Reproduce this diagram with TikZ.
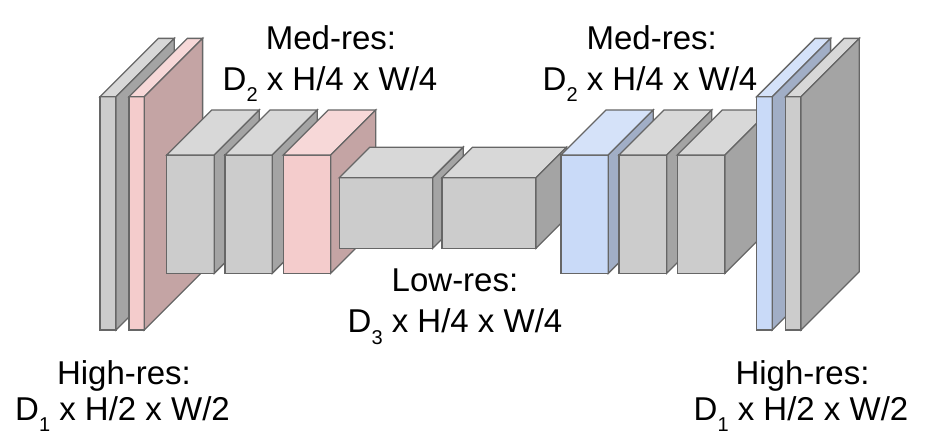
\documentclass[tikz,border=0pt]{standalone}
\usepackage{fontspec}
\setmainfont{Liberation Sans}
\definecolor{edgec}{HTML}{666666}
\definecolor{grayF}{HTML}{CCCCCC}
\definecolor{grayT}{HTML}{D8D8D8}
\definecolor{grayS}{HTML}{A4A4A4}
\definecolor{pinkF}{HTML}{F4CCCC}
\definecolor{pinkT}{HTML}{F7D8D8}
\definecolor{pinkS}{HTML}{C4A4A4}
\definecolor{blueF}{HTML}{C9DAF8}
\definecolor{blueT}{HTML}{D5E2F9}
\definecolor{blueS}{HTML}{A1AEC6}
\newcommand{\sbs}[1]{\raisebox{-0.36em}{\fontsize{20}{20}\selectfont #1}}
% x y w h d colourname
\newcommand{\drawcube}[6]{%
  \filldraw[cubeline, fill=#6F] (#1,#2) rectangle ++(#3,#4);
  \filldraw[cubeline, fill=#6T] (#1,#2) -- ++(#5,-#5) -- ++(#3,0) -- ++(-#5,#5) -- cycle;
  \filldraw[cubeline, fill=#6S] (#1+#3,#2) -- ++(#5,-#5) -- ++(0,#4) -- ++(-#5,#5) -- cycle;
}
\begin{document}
\begin{tikzpicture}[x=1pt,y=-1pt,
  cubeline/.style={draw=edgec, line width=1.3pt},
  lab/.style={anchor=base, inner sep=0pt, font=\fontsize{33}{40}\selectfont}]
\useasboundingbox (0,0) rectangle (936,444);
% left high-res slabs
\drawcube{100}{96.7}{16}{233.3}{58.3}{gray}
\drawcube{129}{96.7}{15.3}{233.3}{58.3}{pink}
% left med-res blocks
\drawcube{166.7}{155}{47.6}{118.3}{45}{gray}
\drawcube{225}{155}{47.3}{118.3}{45}{gray}
\drawcube{283.3}{155}{47.4}{118.3}{45}{pink}
% low-res blocks
\drawcube{339.3}{177.7}{93.4}{70.6}{30.5}{gray}
\drawcube{442}{177.7}{94}{70.6}{30.5}{gray}
% right med-res blocks
\drawcube{561}{155}{47.3}{118.3}{45}{blue}
\drawcube{619}{155}{47.7}{118.3}{45}{gray}
\drawcube{677.3}{155}{47.7}{118.3}{45}{gray}
% right high-res slabs
\drawcube{756.7}{96.7}{15.6}{233.3}{58.3}{blue}
\drawcube{785.7}{96.7}{15.3}{233.3}{58.3}{gray}
% labels
\node[lab] (medL1) at (331,50) {Med-res:};
\node[lab] (medL2) at (330,90) {D\sbs{2} x H/4 x W/4};
\node[lab] (medR1) at (651.7,50) {Med-res:};
\node[lab] (medR2) at (650,90) {D\sbs{2} x H/4 x W/4};
\node[lab] (low1) at (455,291.7) {Low-res:};
\node[lab] (low2) at (455,332.7) {D\sbs{3} x H/4 x W/4};
\node[lab] (highL1) at (124,384.3) {High-res:};
\node[lab] (highL2) at (122.5,420) {D\sbs{1} x H/2 x W/2};
\node[lab] (highR1) at (802.5,384.3) {High-res:};
\node[lab] (highR2) at (801,420) {D\sbs{1} x H/2 x W/2};
\end{tikzpicture}
\end{document}
